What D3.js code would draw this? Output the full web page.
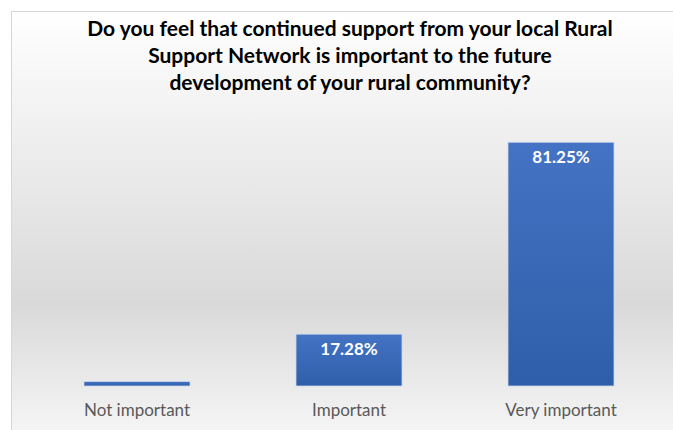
<!DOCTYPE html>
<html>
<head>
<meta charset="utf-8">
<script src="https://cdn.jsdelivr.net/npm/d3@7"></script>
<style>
  body { margin: 0; background: #fff; }
  svg { display: block; }
</style>
</head>
<body>
<script>
// データ
var categories = ["Not important", "Important", "Very important"];
var values = [1.47, 17.28, 81.25];
var valueLabels = ["", "17.28%", "81.25%"];
var titleLines = [
    "Do you feel that continued support from your local Rural",
    "Support Network is important to the future",
    "development of your rural community?"
];

var width = 673;
var height = 430;

var svg = d3.select("body")
    .append("svg")
    .attr("width", width)
    .attr("height", height);

var defs = svg.append("defs");

// 背景のグラデーション
var bg = defs.append("linearGradient")
    .attr("id", "bgGrad")
    .attr("x1", 0).attr("y1", 0).attr("x2", 0).attr("y2", 1);
bg.append("stop").attr("offset", "0%").attr("stop-color", "#ffffff");
bg.append("stop").attr("offset", "25%").attr("stop-color", "#f1f1f1");
bg.append("stop").attr("offset", "68%").attr("stop-color", "#d9d9d9");
bg.append("stop").attr("offset", "100%").attr("stop-color", "#f7f7f7");

// 棒のグラデーション
var barGrad = defs.append("linearGradient")
    .attr("id", "barGrad")
    .attr("x1", 0).attr("y1", 0).attr("x2", 0).attr("y2", 1);
barGrad.append("stop").attr("offset", "0%").attr("stop-color", "#4473c5");
barGrad.append("stop").attr("offset", "100%").attr("stop-color", "#2f5ea9");

svg.append("rect")
    .attr("x", 11.5).attr("y", 11.5)
    .attr("width", width).attr("height", height)
    .attr("fill", "url(#bgGrad)")
    .attr("stroke", "#d6d6d6");

// タイトル
svg.append("g")
    .selectAll("text")
    .data(titleLines)
    .enter()
    .append("text")
    .attr("x", 350)
    .attr("y", (d, i) => 36 + i * 27)
    .attr("text-anchor", "middle")
    .attr("font-family", "Lato, 'Open Sans', sans-serif")
    .attr("font-weight", "bold")
    .attr("font-size", 21)
    .attr("fill", "#000")
    .text(d => d);

// スケール
var x = d3.scaleBand()
    .domain(categories)
    .range([31, 667])
    .paddingInner(0.5)
    .paddingOuter(0.25);

var y = d3.scaleLinear()
    .domain([0, 100])
    .range([386, 86]);

// 棒
svg.append("g")
    .selectAll("rect")
    .data(values)
    .enter()
    .append("rect")
    .attr("x", (d, i) => x(categories[i]))
    .attr("y", d => y(d))
    .attr("width", x.bandwidth())
    .attr("height", d => y(0) - y(d))
    .attr("fill", "url(#barGrad)")
    .attr("stroke", "#c9d6ea")
    .attr("stroke-width", 0.8);

// 値ラベル
svg.append("g")
    .selectAll("text")
    .data(values)
    .enter()
    .append("text")
    .attr("x", (d, i) => x(categories[i]) + x.bandwidth() / 2)
    .attr("y", d => y(d) + 21)
    .attr("text-anchor", "middle")
    .attr("font-family", "Lato, 'Open Sans', sans-serif")
    .attr("font-weight", "bold")
    .attr("font-size", 17)
    .attr("fill", "#ffffff")
    .text((d, i) => valueLabels[i]);

// カテゴリ軸
var xAxis = svg.append("g")
    .attr("transform", "translate(0,386)")
    .call(d3.axisBottom(x).tickSize(0).tickPadding(18));
xAxis.select(".domain").remove();
xAxis.selectAll("text")
    .attr("font-family", "Lato, 'Open Sans', sans-serif")
    .attr("font-size", 17)
    .attr("fill", "#595959");
</script>
</body>
</html>
